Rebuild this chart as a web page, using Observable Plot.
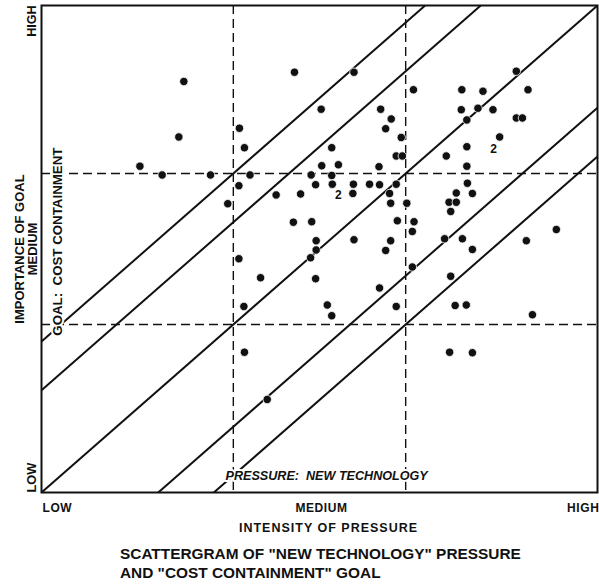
<!DOCTYPE html>
<html>
<head>
<meta charset="utf-8">
<script src="https://cdn.jsdelivr.net/npm/d3@7"></script>
<script src="https://cdn.jsdelivr.net/npm/@observablehq/plot@0.6"></script>
<style>
  html, body { margin: 0; padding: 0; background: #fff; }
  #chart svg { display: block; }
  #caption {
    font-family: "Liberation Sans", Arial, sans-serif;
    font-size: 15.4px;
    font-weight: bold;
    line-height: 18.5px;
    color: #111;
    margin: 4px 0 0 120px;
    white-space: nowrap;
  }
</style>
</head>
<body>
<div id="chart"></div>
<div id="caption">SCATTERGRAM OF "NEW TECHNOLOGY" PRESSURE<br>AND "COST CONTAINMENT" GOAL</div>
<script>
// ---- data (0 = low, 100 = high) ----
const xTicks = [0, 50, 100];
const xTickLabels = ["LOW", "MEDIUM", "HIGH"];
const yTicks = [0, 50, 100];
const yTickLabels = ["LOW", "MEDIUM", "HIGH"];
const cutPoints = [34.5, 65.5];
const bandOffsets = [-31, -21, 0, 21, 31];

const pressure = [
  25.6, 45.5, 35.6, 24.7, 36.5, 17.7, 21.7, 30.4, 37.5, 35.5, 33.5, 42.2,
  56.2, 66.9, 50.3, 61.0, 62.9, 61.9, 64.7, 52.2, 63.8, 64.9, 50.4, 53.4,
  60.7, 48.5, 52.2, 49.3, 52.3, 56.1, 59.0, 60.8, 63.8, 46.6, 56.0, 62.6,
  62.8, 65.7, 85.4, 75.6, 79.4, 87.5, 75.5, 78.5, 81.2, 76.5, 85.4, 86.5,
  82.4, 76.5, 72.8, 76.5, 76.6, 74.6, 77.5, 73.3, 74.6, 73.6, 45.3, 48.6,
  49.4, 49.4, 48.4, 35.5, 39.4, 49.3, 36.4, 36.5, 64.0, 67.0, 66.7, 56.2,
  62.8, 61.9, 66.7, 60.8, 51.4, 52.2, 63.8, 92.6, 87.2, 72.5, 75.7, 77.5,
  73.6, 74.4, 76.4, 88.3, 73.4, 77.5, 40.6
];
const importance = [
  84.4, 86.3, 74.8, 73.0, 70.8, 67.0, 65.2, 65.2, 65.2, 63.0, 59.3, 61.1,
  86.3, 82.7, 78.7, 78.7, 76.7, 74.7, 72.9, 70.8, 69.1, 69.1, 67.1, 67.3,
  66.9, 65.2, 65.1, 63.2, 63.3, 63.3, 63.3, 63.2, 63.3, 61.3, 61.4, 61.4,
  59.4, 59.4, 86.5, 82.7, 82.4, 82.7, 78.6, 78.9, 78.6, 76.5, 76.9, 76.9,
  73.0, 71.0, 69.1, 67.0, 63.5, 61.5, 61.4, 59.6, 59.6, 57.7, 55.5, 55.6,
  51.7, 49.8, 48.2, 48.0, 44.1, 43.9, 38.2, 28.8, 55.8, 55.6, 53.6, 51.9,
  51.7, 49.7, 46.3, 42.0, 38.5, 36.3, 38.2, 54.0, 51.7, 52.1, 52.1, 49.9,
  44.4, 38.4, 38.5, 36.5, 28.8, 28.7, 19.1
];
// locations holding two cases (drawn as "2")
const doublePressure = [53.4, 81.3];
const doubleImportance = [61.0, 70.4];
const doubleCount = ["2", "2"];

const points = pressure.map((p, i) => ({p, g: importance[i]}));
const doubles = doublePressure.map((p, i) => ({p, g: doubleImportance[i], n: doubleCount[i]}));
const bands = bandOffsets.map(c => c >= 0
  ? {x1: 0, y1: c, x2: 100 - c, y2: 100}
  : {x1: -c, y1: 0, x2: 100, y2: 100 + c});

const ink = "#111";
const font = "Liberation Sans, Arial, sans-serif";
const tickStyle = {tickSize: 0, tickPadding: 11, fontSize: 12, fontWeight: "bold", fill: ink, label: null};

const chart = Plot.plot({
  width: 599,
  height: 541,
  marginLeft: 41,
  marginRight: 2,
  marginTop: 5,
  marginBottom: 49,
  style: {fontFamily: font, color: ink, background: "#fff"},
  x: {domain: [0, 100], axis: null},
  y: {domain: [0, 100], axis: null},
  marks: [
    Plot.ruleX(cutPoints, {stroke: ink, strokeWidth: 1.4, strokeDasharray: "9,5"}),
    Plot.ruleY(cutPoints, {stroke: ink, strokeWidth: 1.4, strokeDasharray: "9,5"}),
    Plot.link(bands, {x1: "x1", y1: "y1", x2: "x2", y2: "y2", stroke: ink, strokeWidth: 2}),
    Plot.frame({stroke: ink, strokeWidth: 2}),
    // in-plot labels (white halo breaks the lines beneath, as in the original)
    Plot.text(["GOAL:  COST CONTAINMENT"], {
      frameAnchor: "left", dx: 16, y: 32.2, text: d => d, rotate: -90,
      textAnchor: "start", lineAnchor: "middle", fontSize: 13.3, fontWeight: "bold",
      fill: ink, stroke: "#fff", strokeWidth: 4
    }),
    Plot.text(["PRESSURE:  NEW TECHNOLOGY"], {
      x: 33.1, frameAnchor: "bottom", dy: -17, text: d => d,
      textAnchor: "start", lineAnchor: "middle", fontSize: 12.6, fontWeight: "bold",
      fontStyle: "italic", fill: ink, stroke: "#fff", strokeWidth: 4
    }),
    Plot.dot(points, {x: "p", y: "g", r: 4.2, fill: ink, stroke: "#fff", strokeWidth: 0.8}),
    Plot.text(doubles, {x: "p", y: "g", text: "n", fontSize: 12, fontWeight: "bold", fill: ink}),
    // x tick labels
    Plot.axisX([xTicks[0]], {...tickStyle, tickFormat: () => xTickLabels[0], textAnchor: "start", dx: 1}),
    Plot.axisX([xTicks[1]], {...tickStyle, tickFormat: () => xTickLabels[1], textAnchor: "middle", dx: 2}),
    Plot.axisX([xTicks[2]], {...tickStyle, tickFormat: () => xTickLabels[2], textAnchor: "end", dx: 2}),
    // y tick labels (rotated)
    Plot.text([yTicks[0]], {y: d => d, text: () => yTickLabels[0], frameAnchor: "left", dx: -9.5, rotate: -90, textAnchor: "start", lineAnchor: "middle", fontSize: 12.8, fontWeight: "bold", fill: ink}),
    Plot.text([yTicks[1]], {y: d => d, text: () => yTickLabels[1], frameAnchor: "left", dx: -8.5, rotate: -90, textAnchor: "middle", lineAnchor: "middle", fontSize: 13, fontWeight: "bold", fill: ink}),
    Plot.text([yTicks[2]], {y: d => d, text: () => yTickLabels[2], frameAnchor: "left", dx: -9.5, rotate: -90, textAnchor: "end", lineAnchor: "middle", fontSize: 12.5, fontWeight: "bold", fill: ink}),
    // axis titles
    Plot.text(["IMPORTANCE OF GOAL"], {y: yTicks[1], text: d => d, frameAnchor: "left", dx: -22, rotate: -90, textAnchor: "middle", lineAnchor: "middle", fontSize: 13, fontWeight: "bold", fill: ink}),
    Plot.text(["INTENSITY OF PRESSURE"], {frameAnchor: "bottom", dx: 9, dy: 35, text: d => d, textAnchor: "middle", lineAnchor: "middle", fontSize: 12.5, fontWeight: "bold", fill: ink})
  ]
});
// letter-spacing on the bottom labels, as in the original lettering
d3.select(chart).selectAll("text").each(function () {
  const t = this.textContent;
  if (t === "INTENSITY OF PRESSURE") this.style.letterSpacing = "1px";
  if (xTickLabels.includes(t) && this.closest("g[aria-label^='x-axis']")) this.style.letterSpacing = "0.6px";
});
document.getElementById("chart").append(chart);
</script>
</body>
</html>
